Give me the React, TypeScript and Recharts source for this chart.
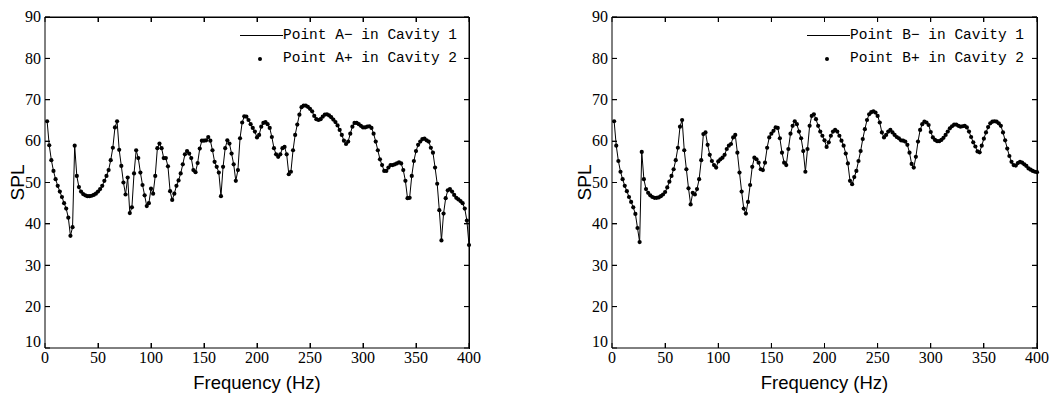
import React from 'react';
import { LineChart, Line, XAxis, YAxis, Legend } from 'recharts';

// Frequency grid (Hz)
const freqs = [
  2, 4, 6, 8, 10, 12, 14, 16, 18, 20,
  22, 24, 26, 28, 30, 32, 34, 36, 38, 40,
  42, 44, 46, 48, 50, 52, 54, 56, 58, 60,
  62, 64, 66, 68, 70, 72, 74, 76, 78, 80,
  82, 84, 86, 88, 90, 92, 94, 96, 98, 100,
  102, 104, 106, 108, 110, 112, 114, 116, 118, 120,
  122, 124, 126, 128, 130, 132, 134, 136, 138, 140,
  142, 144, 146, 148, 150, 152, 154, 156, 158, 160,
  162, 164, 166, 168, 170, 172, 174, 176, 178, 180,
  182, 184, 186, 188, 190, 192, 194, 196, 198, 200,
  202, 204, 206, 208, 210, 212, 214, 216, 218, 220,
  222, 224, 226, 228, 230, 232, 234, 236, 238, 240,
  242, 244, 246, 248, 250, 252, 254, 256, 258, 260,
  262, 264, 266, 268, 270, 272, 274, 276, 278, 280,
  282, 284, 286, 288, 290, 292, 294, 296, 298, 300,
  302, 304, 306, 308, 310, 312, 314, 316, 318, 320,
  322, 324, 326, 328, 330, 332, 334, 336, 338, 340,
  342, 344, 346, 348, 350, 352, 354, 356, 358, 360,
  362, 364, 366, 368, 370, 372, 374, 376, 378, 380,
  382, 384, 386, 388, 390, 392, 394, 396, 398, 400,
];

// SPL at point A (cavity 1 and cavity 2 coincide)
const splA = [
  64.8, 59.0, 55.4, 52.8, 50.8, 49.2, 47.8, 46.5, 45.0, 43.7,
  41.5, 37.1, 39.2, 58.9, 51.6, 48.9, 47.8, 47.2, 46.9, 46.7,
  46.7, 46.8, 47.0, 47.3, 47.8, 48.4, 49.2, 50.4, 51.6, 53.0,
  55.4, 58.4, 63.3, 64.8, 57.9, 54.0, 50.0, 47.1, 51.2, 42.6,
  44.0, 52.2, 57.8, 55.9, 52.4, 49.4, 46.9, 44.3, 45.0, 48.5,
  47.3, 51.6, 58.3, 59.4, 58.3, 55.9, 55.9, 53.9, 47.9, 45.8,
  47.3, 49.2, 50.5, 52.2, 54.4, 56.8, 57.6, 57.0, 55.9, 53.0,
  52.5, 54.7, 58.2, 60.1, 60.1, 60.2, 61.0, 60.1, 57.8, 55.0,
  53.8, 52.4, 46.7, 53.8, 58.3, 60.2, 59.4, 57.0, 54.4, 50.4,
  53.0, 60.7, 64.5, 66.0, 65.9, 65.1, 64.1, 63.2, 62.3, 60.9,
  61.5, 63.5, 64.4, 64.6, 64.1, 63.2, 61.0, 58.3, 56.8, 56.2,
  56.8, 58.3, 58.6, 56.8, 52.0, 52.6, 57.8, 61.5, 64.0, 66.4,
  68.2, 68.6, 68.6, 68.3, 67.8, 67.2, 66.1, 65.3, 65.1, 65.3,
  65.9, 66.4, 66.5, 66.2, 65.8, 65.2, 64.6, 63.8, 62.7, 61.5,
  60.1, 59.3, 59.9, 61.8, 63.5, 64.4, 64.4, 64.1, 63.7, 63.3,
  63.3, 63.5, 63.6, 63.2, 61.8, 59.9, 57.8, 55.6, 54.2, 52.8,
  52.8, 53.6, 54.2, 54.2, 54.4, 54.6, 54.9, 54.6, 53.0, 50.4,
  46.2, 46.3, 51.6, 55.2, 57.6, 59.1, 59.9, 60.5, 60.6, 60.2,
  59.9, 58.4, 57.2, 53.6, 49.7, 43.3, 36.0, 42.5, 46.2, 48.1,
  48.4, 47.8, 47.0, 46.3, 45.9, 45.5, 45.0, 43.7, 40.8, 34.9,
];

// SPL at point B (cavity 1 and cavity 2 coincide)
const splB = [
  64.8, 58.9, 55.2, 52.6, 50.8, 49.2, 47.9, 46.5, 45.3, 44.0,
  42.4, 39.0, 35.6, 57.4, 50.8, 48.4, 47.5, 46.9, 46.5, 46.3,
  46.3, 46.4, 46.7, 47.1, 47.7, 48.8, 50.2, 51.6, 53.2, 55.4,
  58.4, 63.5, 65.1, 57.8, 53.2, 48.6, 44.7, 47.5, 47.1, 48.4,
  50.8, 55.4, 61.7, 62.1, 59.1, 56.7, 55.2, 54.2, 53.6, 55.1,
  55.6, 56.0, 56.7, 58.1, 58.9, 59.3, 60.9, 61.5, 57.2, 52.4,
  47.8, 43.7, 42.5, 45.3, 49.4, 53.8, 56.0, 55.6, 54.8, 53.2,
  53.0, 54.8, 58.4, 60.9, 61.8, 62.5, 63.3, 63.2, 60.7, 57.2,
  54.8, 54.2, 58.1, 61.8, 63.7, 64.8, 64.1, 62.3, 60.7, 57.6,
  52.6, 58.1, 63.7, 66.1, 66.5, 65.3, 63.7, 62.3, 61.3, 60.2,
  58.6, 59.7, 61.3, 62.3, 62.7, 62.3, 61.3, 60.1, 58.9, 57.0,
  54.6, 50.4, 49.6, 51.3, 52.8, 55.2, 57.6, 60.5, 62.9, 65.1,
  66.5, 67.0, 67.2, 66.9, 66.1, 64.5, 62.1, 60.9, 61.5, 62.3,
  62.7, 62.1, 61.5, 61.0, 60.7, 60.2, 60.1, 59.9, 59.1, 57.2,
  54.5, 53.6, 56.2, 59.9, 62.7, 64.1, 64.7, 64.5, 63.9, 62.2,
  60.9, 60.3, 60.0, 60.0, 60.3, 60.8, 61.5, 62.3, 63.1, 63.6,
  64.0, 64.0, 63.7, 63.5, 63.6, 63.7, 63.3, 62.3, 61.0, 59.7,
  58.7, 57.5, 57.3, 58.9, 60.6, 62.1, 63.4, 64.3, 64.7, 64.8,
  64.7, 64.3, 63.7, 62.1, 60.2, 58.2, 56.4, 55.0, 54.2, 54.1,
  54.7, 55.0, 54.8, 54.4, 54.0, 53.4, 53.1, 52.8, 52.6, 52.5,
];

const xTicks = [0, 50, 100, 150, 200, 250, 300, 350, 400];
const yTicks = [10, 20, 30, 40, 50, 60, 70, 80, 90];
const X_DOMAIN = [0, 400];
const Y_DOMAIN = [10, 90];
const seriesOrder = ['minus', 'plus'];

const SERIF = 'Liberation Serif';
const SANS = 'Liberation Sans';
const TICK = 5;
const INK = '#000';

const PLOT_LEFT = 45;
const PLOT_TOP = 17;
const PLOT_HEIGHT = 331;

const BottomTick = (props: any) => {
  const { x, y, payload } = props;
  return (
    <g>
      <line x1={x} y1={y} x2={x} y2={y - TICK} stroke={INK} strokeWidth={1} />
      <text x={x} y={y + 14.5} textAnchor="middle" fontSize={16} fontFamily={SERIF} fill={INK}>
        {payload.value}
      </text>
    </g>
  );
};

const TopTick = (props: any) => {
  const { x, y } = props;
  return <line x1={x} y1={y} x2={x} y2={y + TICK} stroke={INK} strokeWidth={1} />;
};

const LeftTick = (props: any) => {
  const { x, y, payload } = props;
  const ty = payload.value === 10 ? y - 1.2 : y + 5.3;
  return (
    <g>
      <line x1={x} y1={y} x2={x + TICK} y2={y} stroke={INK} strokeWidth={1} />
      <text x={x - 4} y={ty} textAnchor="end" fontSize={16} fontFamily={SERIF} fill={INK}>
        {payload.value}
      </text>
    </g>
  );
};

const RightTick = (props: any) => {
  const { x, y } = props;
  return <line x1={x} y1={y} x2={x - TICK} y2={y} stroke={INK} strokeWidth={1} />;
};

// Legend drawn with plain HTML
const renderLegend = (props: any) => {
  const items = [...(props.payload || [])].sort(
    (a: any, b: any) => seriesOrder.indexOf(a.dataKey) - seriesOrder.indexOf(b.dataKey)
  );
  return (
    <div style={{ fontFamily: '"Liberation Mono", monospace', fontSize: 14.5, color: INK }}>
      {items.map((entry: any, i: number) => (
        <div key={i} style={{ display: 'flex', alignItems: 'center', height: 23 }}>
          <div style={{ position: 'relative', width: 43, height: 10, flex: 'none' }}>
            {entry.type === 'line' ? (
              <div
                style={{ position: 'absolute', left: 0, top: 5, width: 43, height: 0, borderTop: `1px solid ${INK}` }}
              />
            ) : (
              <div
                style={{
                  position: 'absolute',
                  left: 18,
                  top: 3.5,
                  width: 4.2,
                  height: 4.2,
                  borderRadius: '50%',
                  background: INK,
                }}
              />
            )}
          </div>
          <span style={{ whiteSpace: 'pre' }}>{entry.value}</span>
        </div>
      ))}
    </div>
  );
};

// Box frame (top and right edges) with inward ticks, laid over the plot area
const FrameOverlay = ({ plotWidth }: { plotWidth: number }) => {
  const xPct = (t: number) => ((t - X_DOMAIN[0]) / (X_DOMAIN[1] - X_DOMAIN[0])) * 100;
  const yPct = (t: number) => ((Y_DOMAIN[1] - t) / (Y_DOMAIN[1] - Y_DOMAIN[0])) * 100;
  const mark: React.CSSProperties = { position: 'absolute', background: INK };
  return (
    <div
      style={{
        position: 'absolute',
        left: PLOT_LEFT,
        top: PLOT_TOP,
        width: plotWidth,
        height: PLOT_HEIGHT,
        pointerEvents: 'none',
      }}
    >
      <div style={{ ...mark, left: -0.5, top: -0.5, width: plotWidth + 1, height: 1 }} />
      <div style={{ ...mark, left: plotWidth - 0.5, top: -0.5, width: 1, height: PLOT_HEIGHT + 1 }} />
      {xTicks.slice(1, -1).map((t) => (
        <React.Fragment key={`x${t}`}>
          <div style={{ ...mark, left: `calc(${xPct(t)}% - 0.5px)`, top: 0, width: 1, height: TICK }} />
          <div style={{ ...mark, left: `calc(${xPct(t)}% - 0.5px)`, bottom: 0, width: 1, height: TICK }} />
        </React.Fragment>
      ))}
      {yTicks.slice(1, -1).map((t) => (
        <React.Fragment key={`y${t}`}>
          <div style={{ ...mark, top: `calc(${yPct(t)}% - 0.5px)`, left: 0, width: TICK, height: 1 }} />
          <div style={{ ...mark, top: `calc(${yPct(t)}% - 0.5px)`, right: 0, width: TICK, height: 1 }} />
        </React.Fragment>
      ))}
    </div>
  );
};

type ChartProps = {
  values: number[];
  nameMinus: string;
  namePlus: string;
  width: number;
  rightMargin: number;
};

const SplChart = ({ values, nameMinus, namePlus, width, rightMargin }: ChartProps) => {
  const rows = freqs.map((f, i) => ({ f, minus: values[i], plus: values[i] }));
  const plotWidth = width - PLOT_LEFT - rightMargin;
  return (
    <div style={{ position: 'relative', width, height: 397 }}>
      <LineChart
        width={width}
        height={397}
        data={rows}
        margin={{ top: 16, right: rightMargin - 1, bottom: 0, left: 0 }}
      >
        <XAxis
          xAxisId="bottom"
          dataKey="f"
          type="number"
          domain={X_DOMAIN}
          ticks={xTicks}
          interval={0}
          height={49}
          tickLine={false}
          tickSize={0}
          tickMargin={0}
          tick={<BottomTick />}
          axisLine={{ stroke: INK, strokeWidth: 1 }}
          label={{
            value: 'Frequency (Hz)',
            position: 'insideBottom',
            offset: 8.5,
            fontFamily: SANS,
            fontSize: 18.5,
            fill: INK,
          }}
        />
        <XAxis
          xAxisId="top"
          dataKey="f"
          type="number"
          orientation="top"
          domain={X_DOMAIN}
          ticks={xTicks}
          interval={0}
          height={1}
          tickLine={false}
          tickSize={0}
          tickMargin={0}
          tick={<TopTick />}
          axisLine={{ stroke: INK, strokeWidth: 1 }}
        />
        <YAxis
          yAxisId="left"
          type="number"
          domain={Y_DOMAIN}
          ticks={yTicks}
          interval={0}
          width={45}
          tickLine={false}
          tickSize={0}
          tickMargin={0}
          tick={<LeftTick />}
          axisLine={{ stroke: INK, strokeWidth: 1 }}
          label={{
            value: 'SPL',
            angle: -90,
            position: 'insideLeft',
            offset: 17.5,
            style: { textAnchor: 'middle' },
            fontFamily: SANS,
            fontSize: 19,
            fill: INK,
          }}
        />
        <YAxis
          yAxisId="right"
          type="number"
          orientation="right"
          domain={Y_DOMAIN}
          ticks={yTicks}
          interval={0}
          width={1}
          tickLine={false}
          tickSize={0}
          tickMargin={0}
          tick={<RightTick />}
          axisLine={{ stroke: INK, strokeWidth: 1 }}
        />
        <Legend
          layout="horizontal"
          verticalAlign="middle"
          align="center"
          content={renderLegend}
          wrapperStyle={{ top: 23.5, left: 240, width: 230, height: 46, margin: 0, padding: 0 }}
        />
        <Line
          xAxisId="bottom"
          yAxisId="left"
          dataKey="minus"
          name={nameMinus}
          stroke={INK}
          strokeWidth={1}
          dot={false}
          legendType="line"
          isAnimationActive={false}
        />
        <Line
          xAxisId="top"
          yAxisId="right"
          dataKey="plus"
          name={namePlus}
          stroke="none"
          strokeWidth={0}
          dot={{ r: 2.1, fill: INK, stroke: 'none' }}
          legendType="circle"
          isAnimationActive={false}
        />
      </LineChart>
      <FrameOverlay plotWidth={plotWidth} />
    </div>
  );
};

export default function App() {
  return (
    <div style={{ position: 'absolute', left: 0, top: 0, width: 1054, height: 397, background: '#fff' }}>
      <div style={{ position: 'absolute', left: 0, top: 0 }}>
        <SplChart
          values={splA}
          nameMinus="Point A− in Cavity 1"
          namePlus="Point A+ in Cavity 2"
          width={527}
          rightMargin={58}
        />
      </div>
      <div style={{ position: 'absolute', left: 567, top: 0 }}>
        <SplChart
          values={splB}
          nameMinus="Point B− in Cavity 1"
          namePlus="Point B+ in Cavity 2"
          width={487}
          rightMargin={17}
        />
      </div>
    </div>
  );
}
